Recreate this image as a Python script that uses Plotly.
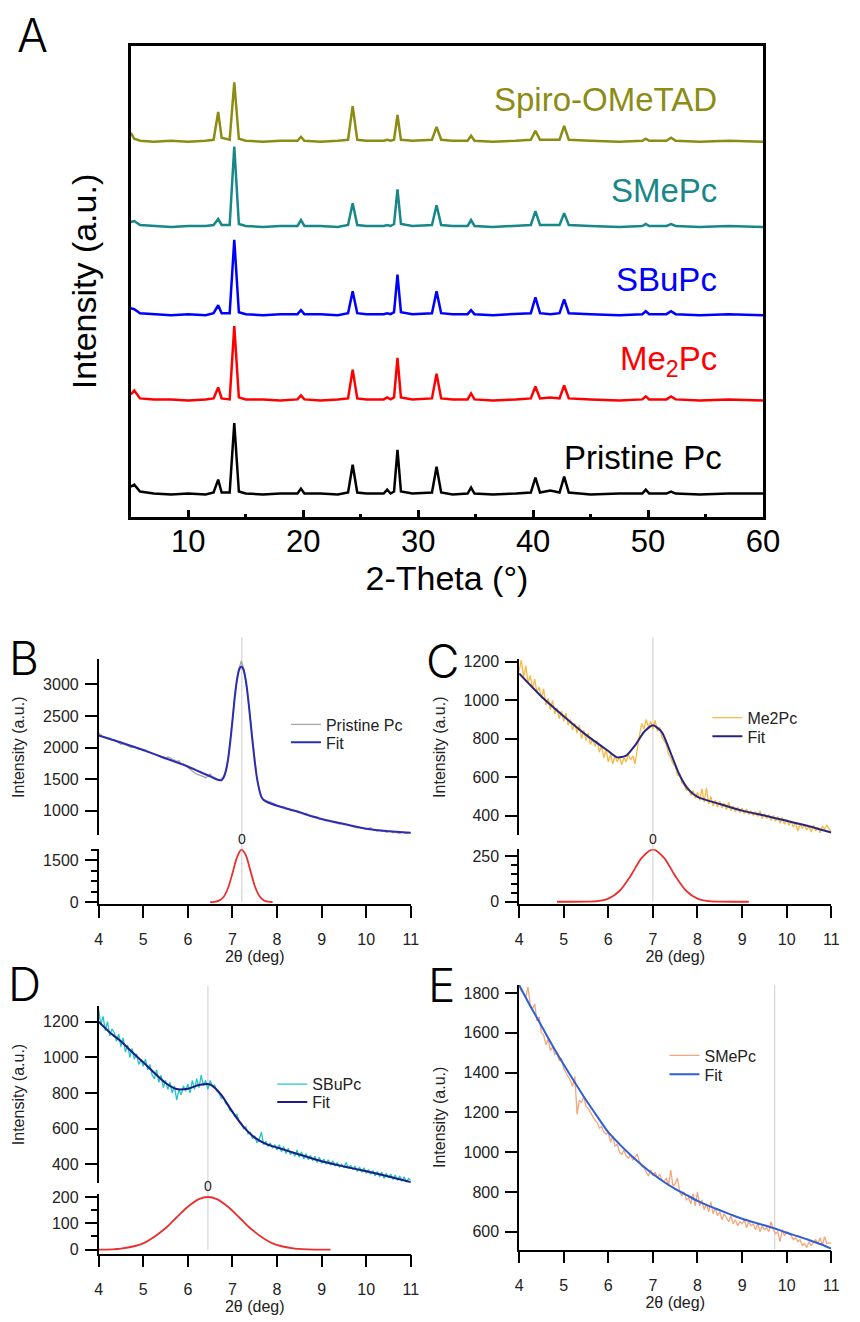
import numpy as np
import plotly.graph_objects as go

W, H = 860, 1322
def fx(px): return px / W
def fy(py): return 1 - py / H

FONT = "Arial, 'Liberation Sans', sans-serif"

# ---------------- Panel A : XRD patterns ----------------
two_theta_A = [5.0, 5.3, 5.8, 7.0, 8.5, 10.0, 11.5, 12.2, 12.6, 12.9,
               13.6, 14.0, 14.4, 15.0, 16.5, 18.0, 19.5, 19.8, 20.1, 21.5,
               23.0, 23.9, 24.3, 24.7, 25.5, 27.0, 27.3, 27.6, 27.9, 28.2,
               28.5, 29.5, 31.2, 31.6, 32.0, 33.0, 34.3, 34.6, 34.9, 36.5,
               38.5, 39.8, 40.2, 40.6, 41.5, 42.3, 42.7, 43.1, 45.0, 47.5,
               49.5, 49.8, 50.1, 51.6, 52.0, 52.4, 54.5, 57.0, 60.0]
pristine_A = [8, 10, 3, 1, 0, 1, 0, 2, 15, 2,
              2, 72, 3, 1, 0, 1, 1, 6, 1, 1,
              0, 2, 30, 2, 1, 1, 5, 1, 3, 45,
              3, 1, 2, 28, 2, 0, 1, 7, 1, 0,
              1, 2, 17, 2, 4, 2, 18, 2, 0, 1,
              1, 5, 1, 1, 3, 1, 0, 1, 1]
me2pc_A = [6, 10, 2, 1, 1, 0, 1, 2, 13, 2,
           1, 75, 3, 1, 1, 0, 1, 5, 1, 0,
           1, 2, 31, 2, 1, 1, 3, 1, 3, 43,
           3, 1, 2, 27, 2, 1, 1, 7, 1, 0,
           1, 2, 14, 2, 3, 2, 15, 2, 1, 0,
           1, 4, 1, 1, 4, 1, 0, 1, 0]
sbupc_A = [7, 6, 2, 1, 0, 1, 0, 2, 10, 2,
           2, 76, 3, 1, 0, 1, 1, 5, 1, 1,
           0, 2, 24, 2, 1, 1, 2, 1, 3, 41,
           3, 1, 2, 24, 2, 1, 1, 5, 1, 0,
           1, 2, 18, 2, 1, 2, 16, 2, 1, 0,
           1, 4, 1, 1, 4, 1, 0, 1, 0]
smepc_A = [5, 6, 2, 1, 0, 1, 1, 2, 8, 2,
           2, 81, 3, 1, 0, 1, 1, 7, 1, 1,
           0, 2, 24, 2, 1, 1, 2, 1, 3, 38,
           3, 1, 2, 22, 2, 1, 1, 7, 1, 0,
           1, 2, 16, 2, 2, 2, 14, 2, 1, 0,
           1, 3, 1, 1, 3, 1, 0, 1, 0]
spiro_A = [9, 3, 1, 0, 1, 0, 1, 2, 30, 4,
           2, 60, 3, 1, 0, 1, 1, 5, 1, 0,
           1, 2, 36, 2, 1, 1, 2, 1, 2, 27,
           2, 1, 2, 15, 2, 1, 1, 6, 1, 0,
           1, 2, 11, 2, 2, 2, 16, 2, 1, 0,
           1, 3, 1, 1, 4, 1, 0, 1, 0]
series_A = [pristine_A, me2pc_A, sbupc_A, smepc_A, spiro_A]
offsets_A = [23, 118, 204, 293, 379]
names_A = ["Pristine Pc", "Me<sub>2</sub>Pc", "SBuPc", "SMePc", "Spiro-OMeTAD"]
colors_A = ["#000000", "#ff0000", "#0000ff", "#17878a", "#8c8c14"]
label_x_A = [56.6, 56.2, 56.2, 56.2, 56.2]
label_y_A = [60, 158, 240, 330, 422]

# ---------------- Panels B-E : low-angle fits ----------------
scan_x = np.round(np.arange(4.0, 11.0001, 0.05), 2)

raw_B = [2230, 2200, 2170, 2160, 2140, 2150, 2110, 2120, 2100, 2080, 2050, 2060, 2040, 2030, 2010, 2000, 2020, 1990, 1970, 1980,
         1950, 1960, 1930, 1920, 1900, 1890, 1880, 1860, 1850, 1830, 1820, 1850, 1840, 1810, 1800, 1780, 1790, 1740, 1740, 1710,
         1690, 1650, 1620, 1600, 1580, 1570, 1560, 1540, 1520, 1560, 1580, 1540, 1530, 1490, 1480, 1500, 1540, 1640, 1810, 2090,
         2430, 2800, 3080, 3260, 3370, 3250, 3060, 2780, 2440, 2090, 1780, 1510, 1330, 1220, 1180, 1160, 1150, 1140, 1120, 1110,
         1080, 1070, 1050, 1060, 1030, 1040, 1010, 1020, 990, 1000, 980, 960, 950, 960, 930, 920, 910, 890, 900, 870,
         870, 860, 840, 850, 830, 820, 810, 800, 790, 800, 780, 790, 770, 760, 750, 740, 730, 740, 720, 720,
         710, 720, 730, 700, 690, 680, 690, 670, 680, 660, 670, 680, 650, 660, 650, 640, 660, 650, 640, 650,
         650]
raw_C = [1150, 1210, 1120, 1180, 1090, 1130, 1060, 1110, 1040, 1070, 1010, 1060, 975, 1010, 950, 1000, 930, 960, 905, 945,
         890, 935, 870, 900, 845, 880, 830, 870, 800, 845, 790, 830, 770, 800, 760, 790, 730, 765, 700, 745,
         680, 720, 670, 710, 680, 705, 665, 700, 680, 720, 690, 710, 670, 760, 820, 880, 850, 900, 860, 890,
         850, 895, 840, 860, 810, 790, 770, 720, 700, 670, 660, 610, 620, 570, 560, 530, 545, 505, 530, 490,
         520, 480, 540, 470, 545, 460, 500, 450, 480, 445, 475, 440, 465, 430, 470, 425, 450, 420, 445, 415,
         440, 410, 435, 405, 425, 400, 420, 395, 425, 385, 410, 385, 405, 375, 400, 370, 395, 360, 390, 355,
         380, 350, 370, 340, 365, 320, 355, 335, 350, 325, 345, 315, 350, 320, 340, 310, 345, 330, 350, 330,
         320]
raw_D = [1270, 1180, 1230, 1150, 1200, 1120, 1160, 1140, 1090, 1130, 1060, 1110, 1030, 1070, 1000, 1050, 990, 1020, 960, 990,
         950, 990, 930, 960, 900, 880, 930, 860, 900, 830, 870, 820, 860, 800, 840, 760, 820, 790, 840, 810,
         850, 800, 870, 820, 880, 830, 900, 840, 870, 820, 870, 835, 845, 810, 800, 770, 775, 740, 730, 700,
         700, 670, 680, 640, 630, 600, 610, 570, 580, 545, 560, 520, 540, 580, 510, 530, 500, 520, 490, 510,
         480, 510, 470, 500, 460, 490, 455, 470, 445, 480, 440, 470, 430, 460, 425, 450, 420, 445, 410, 440,
         405, 430, 400, 425, 395, 420, 390, 410, 385, 400, 380, 410, 375, 395, 370, 390, 360, 385, 355, 380,
         350, 370, 345, 365, 335, 360, 330, 355, 320, 350, 325, 345, 315, 340, 310, 335, 305, 330, 300, 320,
         310]
raw_E = [1840, 1810, 1800, 1780, 1830, 1740, 1720, 1745, 1660, 1680, 1600, 1590, 1540, 1570, 1510, 1530, 1490, 1500, 1460, 1470,
         1420, 1400, 1380, 1360, 1330, 1380, 1190, 1260, 1250, 1280, 1230, 1220, 1200, 1180, 1160, 1150, 1120, 1130, 1100, 1090,
         1100, 1050, 1080, 1030, 1040, 1000, 990, 1010, 980, 970, 985, 960, 975, 990, 950, 930, 920, 900, 880, 910,
         880, 900, 870, 890, 860, 850, 870, 830, 910, 830, 840, 870, 800, 780, 800, 760, 770, 740, 790, 730,
         800, 730, 760, 710, 740, 700, 750, 690, 720, 680, 700, 660, 690, 670, 650, 680, 640, 660, 630, 650,
         640, 660, 620, 650, 630, 640, 610, 640, 600, 630, 610, 620, 600, 650, 610, 590, 600, 550, 610, 580,
         600, 590, 580, 560, 570, 550, 560, 530, 540, 520, 550, 530, 545, 560, 540, 570, 530, 575, 540, 545,
         540]

fit_B_x = [4.0, 4.5, 5.0, 5.5, 6.0, 6.25, 6.5, 6.6, 6.7, 6.75, 6.8, 6.85, 6.9, 6.95, 7.0, 7.05, 7.1, 7.15, 7.2,
           7.25, 7.3, 7.35, 7.4, 7.45, 7.5, 7.55, 7.6, 7.65, 7.7, 7.8, 8.0, 8.5, 9.0, 9.5, 10.0, 10.5, 11.0]
fit_B_y = [2190, 2080, 1960, 1830, 1700, 1620, 1545, 1510, 1485, 1480, 1520, 1620, 1800, 2080, 2420, 2780, 3060, 3230, 3280,
           3230, 3060, 2790, 2450, 2100, 1780, 1520, 1340, 1220, 1170, 1130, 1080, 975, 870, 790, 715, 675, 650]
fit_C_x = [4.0, 4.5, 5.0, 5.5, 6.0, 6.2, 6.4, 6.6, 6.8, 7.0, 7.2, 7.4, 7.6, 7.8, 8.0, 8.5, 9.0, 9.5, 10.0, 10.5, 11.0]
fit_C_y = [1140, 1020, 917, 820, 736, 703, 712, 765, 835, 870, 835, 725, 610, 535, 498, 460, 426, 400, 373, 345, 312]
fit_D_x = [4.0, 4.25, 4.5, 4.75, 5.0, 5.25, 5.5, 5.75, 6.0, 6.25, 6.5, 6.75, 7.0, 7.25, 7.5, 7.75, 8.0, 8.5, 9.0,
           9.5, 10.0, 10.5, 11.0]
fit_D_y = [1200, 1140, 1090, 1030, 972, 912, 856, 822, 824, 845, 848, 790, 694, 610, 550, 515, 494, 455, 417,
           388, 361, 332, 300]
fit_E_x = [4.0, 4.25, 4.5, 4.75, 5.0, 5.25, 5.5, 5.75, 6.0, 6.25, 6.5, 6.75, 7.0, 7.25, 7.5, 7.75, 8.0, 8.25, 8.5,
           8.75, 9.0, 9.25, 9.5, 9.75, 10.0, 10.25, 10.5, 10.75, 11.0]
fit_E_y = [1840, 1735, 1635, 1535, 1440, 1350, 1262, 1180, 1100, 1040, 985, 935, 890, 850, 815, 785, 755, 730, 708,
           686, 665, 648, 632, 615, 595, 577, 558, 538, 515]

peak_B_x = [6.5, 6.6, 6.7, 6.8, 6.9, 7.0, 7.1, 7.2, 7.3, 7.4, 7.5, 7.6, 7.7, 7.8, 7.9]
peak_B_y = [2, 11, 52, 184, 499, 1026, 1598, 1887, 1690, 1146, 590, 230, 68, 15, 3]
peak_C_x = [4.85, 5.5, 5.75, 6.0, 6.25, 6.5, 6.75, 7.0, 7.25, 7.5, 7.75, 8.0, 8.25, 8.5, 9.15]
peak_C_y = [0, 1, 3, 17, 59, 142, 241, 288, 241, 142, 59, 17, 3, 1, 0]
peak_D_x = [4.0, 4.5, 5.0, 5.5, 5.75, 6.0, 6.25, 6.45, 6.65, 6.9, 7.15, 7.4, 7.9, 8.4, 8.9, 9.2]
peak_D_y = [0, 4, 24, 81, 123, 163, 192, 200, 192, 163, 123, 81, 24, 4, 0, 0]

peak_centers = [7.21, 7.0, 6.45, 9.73]

fig = go.Figure()

# ---- Panel A traces ----
for vals, off, col in zip(series_A, offsets_A, colors_A):
    fig.add_trace(go.Scatter(x=two_theta_A, y=[v + off for v in vals], mode="lines",
                             line=dict(color=col, width=2.5), showlegend=False,
                             xaxis="x", yaxis="y", hoverinfo="skip"))
for name, lx, ly, col in zip(names_A, label_x_A, label_y_A, colors_A):
    fig.add_annotation(x=lx, y=ly, xref="x", yref="y", text=name, showarrow=False,
                       xanchor="right", yanchor="middle",
                       font=dict(family=FONT, size=33, color=col))

# ---- Panels B-E traces ----
panels = [
    dict(raw=raw_B, fx_=fit_B_x, fy_=fit_B_y, px=peak_B_x, py=peak_B_y, name="Pristine Pc",
         rawcol="#a6a6a6", fitcol="#2d2db4", top=("x2", "y2"), bot=("x3", "y3"), legs=("legend2", "legend3")),
    dict(raw=raw_C, fx_=fit_C_x, fy_=fit_C_y, px=peak_C_x, py=peak_C_y, name="Me2Pc",
         rawcol="#f7b944", fitcol="#26267e", top=("x4", "y4"), bot=("x5", "y5"), legs=("legend4", "legend5")),
    dict(raw=raw_D, fx_=fit_D_x, fy_=fit_D_y, px=peak_D_x, py=peak_D_y, name="SBuPc",
         rawcol="#22c6c9", fitcol="#1c1c84", top=("x6", "y6"), bot=("x7", "y7"), legs=("legend6", "legend7")),
    dict(raw=raw_E, fx_=fit_E_x, fy_=fit_E_y, px=None, py=None, name="SMePc",
         rawcol="#f4a67c", fitcol="#2f5fd6", top=("x8", "y8"), bot=None, legs=("legend8", "legend9")),
]
for p in panels:
    xa, ya = p["top"]
    fig.add_trace(go.Scatter(x=scan_x, y=p["raw"], mode="lines", name=p["name"],
                             line=dict(color=p["rawcol"], width=1.3), legend=p["legs"][0],
                             xaxis=xa, yaxis=ya))
    fig.add_trace(go.Scatter(x=p["fx_"], y=p["fy_"], mode="lines", name="Fit",
                             line=dict(color=p["fitcol"], width=2, shape="spline", smoothing=0.6),
                             legend=p["legs"][1], xaxis=xa, yaxis=ya))
    if p["px"] is not None:
        xb, yb = p["bot"]
        fig.add_trace(go.Scatter(x=p["px"], y=p["py"], mode="lines", showlegend=False,
                                 line=dict(color="#e8302e", width=1.8, shape="spline", smoothing=0.8),
                                 xaxis=xb, yaxis=yb))

# ---- axes ----
axis_common = dict(showgrid=False, zeroline=False, showline=True, linecolor="black", linewidth=1.5,
                   ticks="outside", ticklen=12, tickwidth=1.5, tickcolor="black",
                   tickfont=dict(family=FONT, size=16, color="#222222"))
xr = [4, 11]

layout = dict(
    width=W, height=H, margin=dict(l=0, r=0, t=0, b=0),
    paper_bgcolor="white", plot_bgcolor="white",
    font=dict(family=FONT, color="#222222"),
    xaxis=dict(domain=[fx(130), fx(778)], range=[5, 60], anchor="y",
               showgrid=False, zeroline=False, showline=True, mirror=True, linecolor="black", linewidth=2.5,
               tickvals=[10, 20, 30, 40, 50, 60], ticks="inside", ticklen=8, tickwidth=2.5, tickcolor="black",
               minor=dict(tickvals=[15, 25, 35, 45, 55], ticks="inside", ticklen=4, tickwidth=2.5, tickcolor="black"),
               ticklabelstandoff=-5,
               tickfont=dict(family=FONT, size=31, color="black"),
               title=dict(text="2-Theta (°)", font=dict(family=FONT, size=34, color="black"), standoff=4)),
    yaxis=dict(domain=[fy(517), fy(41)], range=[0, 476], anchor="x",
               showgrid=False, zeroline=False, showline=True, mirror=True, linecolor="black", linewidth=2.5,
               ticks="", showticklabels=False,
               title=dict(text="Intensity (a.u.)", font=dict(family=FONT, size=34, color="black"), standoff=22)),
)

def top_x(dom, anchor):
    return dict(domain=dom, range=xr, anchor=anchor, visible=False)

def bot_x(dom, anchor):
    d = dict(axis_common)
    d.update(domain=dom, range=xr, anchor=anchor, dtick=1, ticklabelstandoff=8,
             title=dict(text="2θ (deg)", font=dict(family=FONT, size=16, color="#222222"), standoff=4))
    return d

def left_y(dom, rng, anchor, dtick, title=None, minor=None):
    d = dict(axis_common)
    d.update(domain=dom, range=rng, anchor=anchor, dtick=dtick, ticklabelstandoff=3)
    if title:
        d["title"] = dict(text=title, font=dict(family=FONT, size=16, color="#222222"), standoff=14)
    if minor:
        d["minor"] = dict(dtick=minor, ticks="outside", ticklen=6, tickwidth=1.5, tickcolor="black")
    return d

colL = [fx(97), fx(417)]
colR = [fx(528), fx(848)]
layout.update(
    xaxis2=top_x(colL, "y2"),
    yaxis2=left_y([fy(838), fy(660)], [610, 3400], "x2", 500, "Intensity (a.u.)"),
    xaxis3=bot_x(colL, "y3"),
    yaxis3=left_y([fy(907), fy(852)], [-60, 1900], "x3", 1500, minor=375),
    xaxis4=top_x(colR, "y4"),
    yaxis4=left_y([fy(838), fy(660)], [297, 1215], "x4", 200, "Intensity (a.u.)"),
    xaxis5=bot_x(colR, "y5"),
    yaxis5=left_y([fy(907), fy(852)], [-11, 288], "x5", 250, minor=50),
    xaxis6=top_x(colL, "y6"),
    yaxis6=left_y([fy(1189), fy(1010)], [294, 1289], "x6", 200, "Intensity (a.u.)"),
    xaxis7=bot_x(colL, "y7"),
    yaxis7=left_y([fy(1260), fy(1200)], [-15, 211], "x7", 100, minor=50),
    xaxis8=bot_x(colR, "y8"),
    yaxis8=left_y([fy(1256), fy(989)], [510, 1840], "x8", 200, "Intensity (a.u.)"),
)

def leg(xpx, ypx):
    return dict(x=fx(xpx), y=fy(ypx), xanchor="left", yanchor="top", bgcolor="rgba(0,0,0,0)",
                font=dict(family=FONT, size=16, color="#222222"), itemwidth=30, tracegroupgap=0)

legend_pos = {"legend2": (289, 709), "legend3": (289, 727),
              "legend4": (721, 702), "legend5": (721, 721),
              "legend6": (275, 1072), "legend7": (275, 1090),
              "legend8": (677, 1043), "legend9": (677, 1062)}
for k, (lx, ly) in legend_pos.items():
    layout[k] = leg(lx, ly)
fig.update_layout(**layout)

# ---- peak-centre guide lines and labels ----
guide = [("x3", 638, 905), ("x5", 638, 905), ("x7", 990, 1256), ("x8", 989, 1256)]
for (xref, ytop, ybot), xc in zip(guide, peak_centers):
    fig.add_shape(type="line", xref=xref, yref="paper", x0=xc, x1=xc, y0=fy(ybot), y1=fy(ytop),
                  line=dict(color="#d4d4d4", width=1.2), layer="below")
for xref, xc, ypx in [("x3", peak_centers[0], 842), ("x5", peak_centers[1], 842), ("x7", peak_centers[2], 1192)]:
    fig.add_annotation(x=xc, y=fy(ypx), xref=xref, yref="paper", text="0", showarrow=False,
                       xanchor="center", yanchor="middle", font=dict(family=FONT, size=14, color="#222222"))

# ---- panel letters ----
for letter, cx, cy in [("A", 29, 30), ("B", 20, 659), ("C", 450, 662), ("D", 21, 988), ("E", 448, 989)]:
    fig.add_annotation(x=fx(cx), y=fy(cy), xref="paper", yref="paper", text=letter, showarrow=False,
                       xanchor="center", yanchor="middle",
                       font=dict(family="Inter, 'Noto Sans', sans-serif", size=46, color="black", weight=300))

fig.write_html("out.html")
